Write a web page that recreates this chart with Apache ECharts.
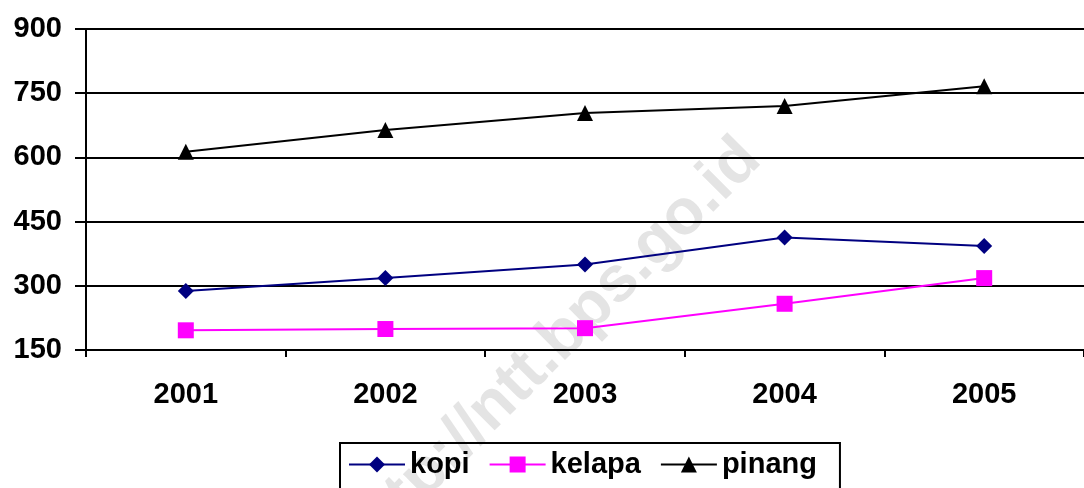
<!DOCTYPE html>
<html>
<head>
<meta charset="utf-8">
<script src="https://cdn.jsdelivr.net/npm/echarts@6/dist/echarts.min.js"></script>
<style>
  html, body { margin: 0; padding: 0; background: #fff; }
  #chart { width: 1084px; height: 488px; }
</style>
</head>
<body>
<div id="chart"></div>
<script>
const years = ['2001', '2002', '2003', '2004', '2005'];
const kopi = [288, 318, 350, 413, 393];
const kelapa = [196, 199, 201, 258, 318];
const pinang = [613, 664, 704, 720, 766];

const font = 'Arial, "Liberation Sans", sans-serif';

const myChart = echarts.init(document.getElementById('chart'));

function lineSeries(name, data, color, symbol, size) {
    return {
        name: name,
        type: 'line',
        data: data,
        symbol: symbol,
        symbolSize: size,
        lineStyle: { color: color, width: 2 },
        itemStyle: { color: color },
        z: 3
    };
}

const option = {
    animation: false,
    backgroundColor: '#fff',
    grid: { left: 86, right: 0, top: 29, bottom: 138 },
    legend: {
        left: 340,
        top: 443,
        width: 700,
        padding: [7, 23, 12, 8],
        borderColor: '#000',
        borderWidth: 2,
        itemWidth: 56,
        itemHeight: 20,
        itemGap: 19,
        textStyle: { fontFamily: font, fontWeight: 'bold', fontSize: 29, color: '#000' },
        data: ['kopi', 'kelapa', 'pinang']
    },
    graphic: {
        z: -10,
        elements: [{
            // faint watermark behind the plot
            type: 'text',
            x: 552,
            y: 348,
            rotation: Math.PI / 4,
            silent: true,
            z: -10,
            style: {
                text: 'http://ntt.bps.go.id',
                font: 'bold 64px ' + font,
                fill: '#e4e4e4',
                align: 'center',
                verticalAlign: 'middle'
            }
        }]
    },
    xAxis: {
        type: 'category',
        data: years,
        boundaryGap: true,
        axisLine: { lineStyle: { color: '#000', width: 2 } },
        axisTick: { show: true, length: 7, lineStyle: { color: '#000', width: 2 } },
        axisLabel: { margin: 30, fontFamily: font, fontWeight: 'bold', fontSize: 29, color: '#000' },
        splitLine: { show: false }
    },
    yAxis: {
        type: 'value',
        min: 150,
        max: 900,
        interval: 150,
        axisLine: { show: true, lineStyle: { color: '#000', width: 2 } },
        axisTick: { show: true, length: 11, lineStyle: { color: '#000', width: 2 } },
        axisLabel: { margin: 24, fontFamily: font, fontWeight: 'bold', fontSize: 29, color: '#000' },
        splitLine: { show: true, lineStyle: { color: '#000', width: 2 } }
    },
    series: [
        lineSeries('kopi', kopi, '#000080', 'diamond', 16),
        lineSeries('kelapa', kelapa, '#ff00ff', 'rect', 16),
        lineSeries('pinang', pinang, '#000000', 'triangle', 16)
    ]
};

myChart.setOption(option);
window.addEventListener('resize', () => myChart.resize());
</script>
</body>
</html>
